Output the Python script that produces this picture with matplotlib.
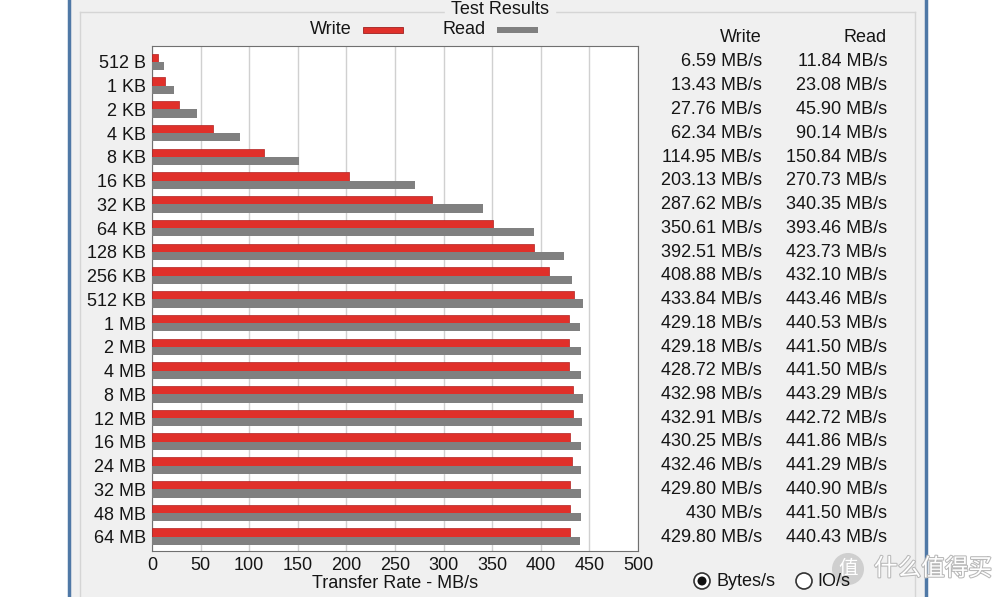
import matplotlib.pyplot as plt
import matplotlib.patheffects as pe
from matplotlib.patches import Rectangle, Circle
import numpy as np

# ATTO style benchmark results
sizes = ["512 B", "1 KB", "2 KB", "4 KB", "8 KB", "16 KB", "32 KB", "64 KB",
         "128 KB", "256 KB", "512 KB", "1 MB", "2 MB", "4 MB", "8 MB", "12 MB",
         "16 MB", "24 MB", "32 MB", "48 MB", "64 MB"]
write = [6.59, 13.43, 27.76, 62.34, 114.95, 203.13, 287.62, 350.61, 392.51, 408.88,
         433.84, 429.18, 429.18, 428.72, 432.98, 432.91, 430.25, 432.46, 429.80, 430, 429.80]
read = [11.84, 23.08, 45.90, 90.14, 150.84, 270.73, 340.35, 393.46, 423.73, 432.10,
        443.46, 440.53, 441.50, 441.50, 443.29, 442.72, 441.86, 441.29, 440.90, 441.50, 440.43]
xticks = [0, 50, 100, 150, 200, 250, 300, 350, 400, 450, 500]

plt.rcParams["font.family"] = ["Liberation Sans", "DejaVu Sans"]

W, H = 1000, 597
fig = plt.figure(figsize=(W / 100, H / 100), dpi=100)
fig.patch.set_facecolor("white")

def fx(x):
    return x / W

def fy(y):
    return 1 - y / H

txt = "#151515"
red = "#e0302a"
gray = "#808080"
fs = 13

# window panel and frame
fig.patches.append(Rectangle((fx(70), 0), fx(856), 1, transform=fig.transFigure,
                             facecolor="#f0f0f0", edgecolor="none", zorder=-10))
for x in (69, 926):
    fig.add_artist(plt.Line2D([fx(x), fx(x)], [0, 1], color="#4f78a6", lw=2.5, zorder=-5))
# group box
for xs, ys in (([80, 915], [12, 12]), ([80, 80], [12, 597]), ([915, 915], [12, 597])):
    fig.add_artist(plt.Line2D([fx(v) for v in xs], [fy(v) for v in ys],
                              color="#d5d5d5", lw=1, zorder=-5))
fig.text(fx(500), fy(9), "Test Results", ha="center", va="center", fontsize=fs,
         color=txt, backgroundcolor="#f0f0f0")

# legend
fig.text(fx(352), fy(30), "Write", ha="right", va="center", fontsize=fs, color=txt)
fig.patches.append(Rectangle((fx(363), fy(33)), fx(40), 6 / H, transform=fig.transFigure,
                             facecolor=red, edgecolor="#a02020", lw=0.6))
fig.text(fx(486), fy(30), "Read", ha="right", va="center", fontsize=fs, color=txt)
fig.patches.append(Rectangle((fx(497), fy(33)), fx(41), 6 / H, transform=fig.transFigure,
                             facecolor=gray, edgecolor="none"))

# chart
ax = fig.add_axes([fx(152), fy(551), fx(638 - 152), (551 - 46) / H])
ax.set_facecolor("white")
y = np.arange(len(sizes))
h = 0.35
ax.barh(y - h / 2, write, height=h, color=red, edgecolor="#b02222", lw=0.5, zorder=3)
ax.barh(y + h / 2, read, height=h, color=gray, edgecolor="none", zorder=3)
ax.set_xlim(0, 500)
ax.set_ylim(20.6, -0.67)
ax.set_xticks(xticks)
ax.set_xticklabels([str(t) for t in xticks], fontsize=fs, color=txt)
ax.set_yticks(y)
ax.set_yticklabels(sizes, fontsize=fs, color=txt)
ax.tick_params(length=0, pad=4)
ax.grid(axis="x", color="#d0d0d0", lw=1, zorder=0)
for s in ax.spines.values():
    s.set_color("#707070")
ax.set_xlabel("Transfer Rate - MB/s", fontsize=fs, color=txt, labelpad=1)

# value table
def fmt(v):
    s = f"{v:.2f}"
    if s.endswith(".00"):
        s = s[:-3]
    return s + " MB/s"

fig.text(fx(762), fy(38), "Write", ha="right", va="center", fontsize=fs, color=txt)
fig.text(fx(887), fy(38), "Read", ha="right", va="center", fontsize=fs, color=txt)
for i in range(len(sizes)):
    yy = 62 + i * 23.75
    fig.text(fx(762), fy(yy), fmt(write[i]), ha="right", va="center", fontsize=fs, color=txt)
    fig.text(fx(887), fy(yy), fmt(read[i]), ha="right", va="center", fontsize=fs, color=txt)

# radio buttons
rax = fig.add_axes([0, 0, 1, 1], facecolor="none")
rax.set_xlim(0, W)
rax.set_ylim(H, 0)
rax.axis("off")
rax.add_patch(Circle((702, 581), 8, facecolor="white", edgecolor="#333333", lw=1.2))
rax.add_patch(Circle((702, 581), 4.5, facecolor="#111111", edgecolor="none"))
rax.text(716, 581, "Bytes/s", ha="left", va="center", fontsize=fs, color=txt)
rax.add_patch(Circle((804, 581), 8, facecolor="white", edgecolor="#333333", lw=1.2))
rax.text(817, 581, "IO/s", ha="left", va="center", fontsize=fs, color=txt)

# watermark
rax.add_patch(Circle((848, 569), 16, facecolor="#c4c4c4", edgecolor="none", alpha=0.75))
rax.text(848, 569, "值", ha="center", va="center", fontsize=14, color="white",
         family=["Noto Sans CJK SC", "DejaVu Sans"])
rax.text(874, 569, "什么值得买", ha="left", va="center", fontsize=17, color="white",
         family=["Noto Sans CJK SC", "DejaVu Sans"],
         path_effects=[pe.withStroke(linewidth=1.5, foreground="#b8b8b8")])

fig.savefig("out.png", dpi=100)
